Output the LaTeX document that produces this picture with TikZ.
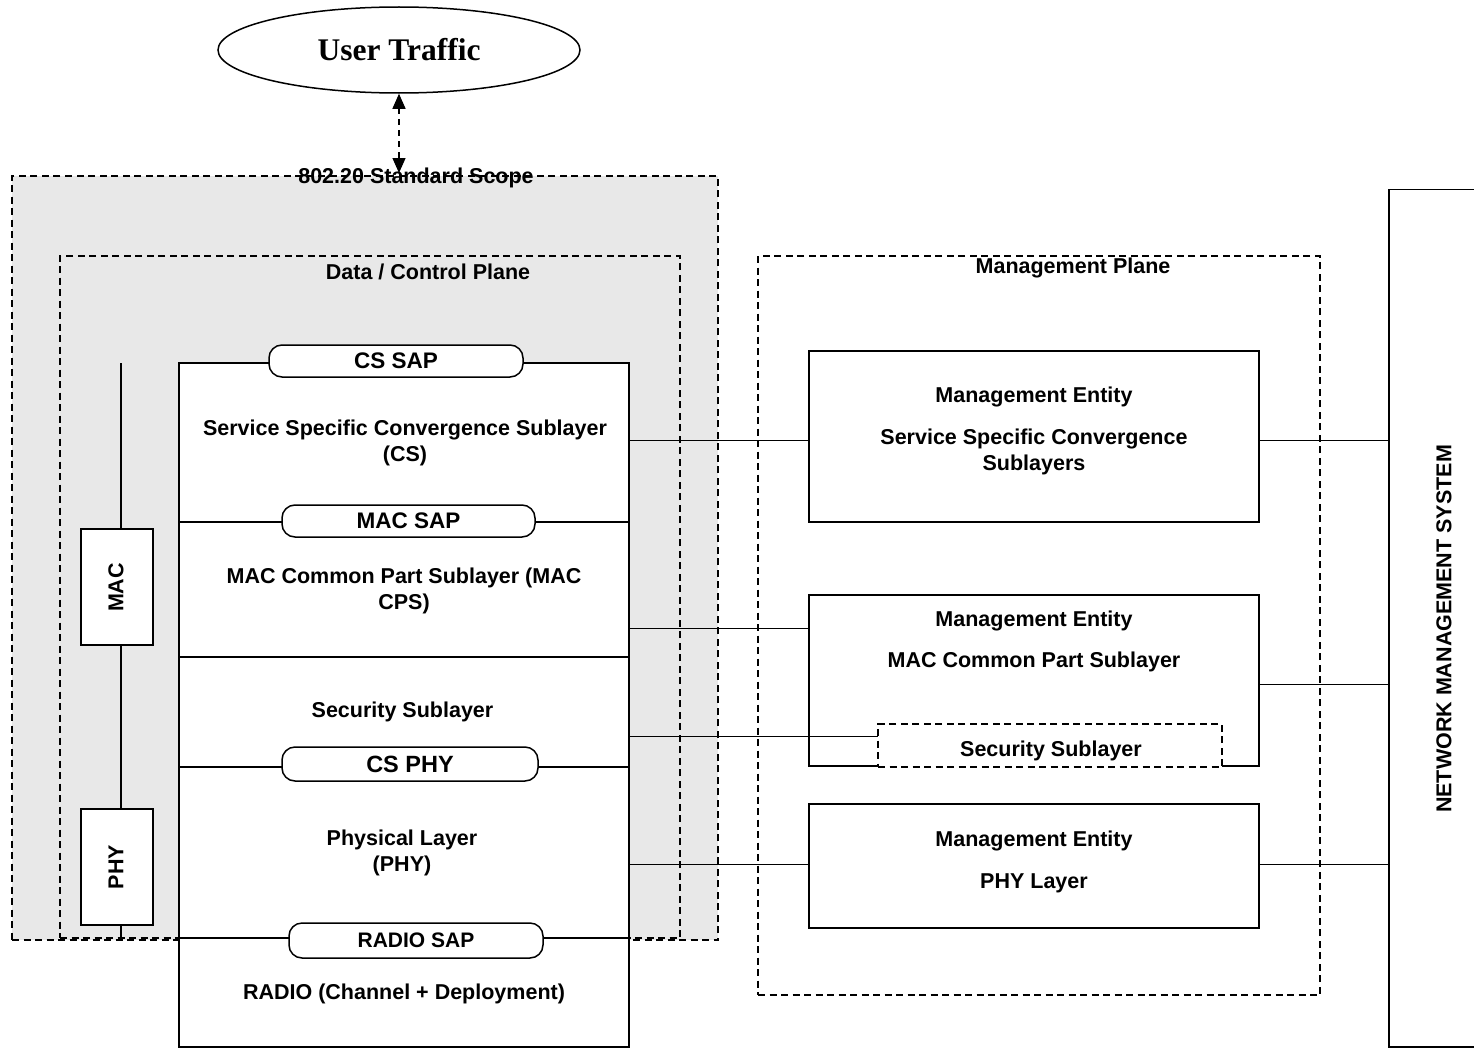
\documentclass[tikz,border=0pt]{standalone}
\usepackage{fontspec}
\setmainfont{Liberation Sans}
\newfontfamily\trafficfont{Liberation Serif}
\usetikzlibrary{shapes.geometric,arrows.meta,calc}
\definecolor{scopegray}{RGB}{232,232,232}
\tikzset{
  lbl/.style={inner sep=0pt, outer sep=0pt, align=center,
    font=\fontsize{21.5}{26}\selectfont\bfseries},
  solidbox/.style={draw, line width=1.5pt, fill=white, inner sep=0pt, outer sep=0pt},
  planebox/.style={draw, line width=1.5pt, dash pattern=on 7pt off 4.5pt, inner sep=0pt, outer sep=0pt},
  sapbox/.style={draw, line width=1.5pt, fill=white, rounded corners=13pt, inner sep=0pt, outer sep=0pt,
    font=\fontsize{#1}{28}\selectfont\bfseries},
  sapbox/.default=22.5,
  wire/.style={line width=1.5pt},
  trafficlink/.style={line width=1.3pt, dash pattern=on 6pt off 5pt,
    {Triangle[length=15pt,width=13pt]}-{Triangle[length=15pt,width=13pt]}},
}
\begin{document}
\begin{tikzpicture}[x=1pt,y=-1pt]
\useasboundingbox (0,0) rectangle (1474,1049);

% user traffic source
\node[ellipse, draw, line width=1.5pt, minimum width=362pt, minimum height=86pt, inner sep=0pt,
  font=\trafficfont\bfseries\fontsize{31.5}{36}\selectfont] (ut) at (399,50) {User Traffic};

% standard scope and planes
\node[planebox, fill=scopegray, minimum width=706pt, minimum height=764pt] (scope) at (365,558) {};
\node[lbl] (scopelbl) at (416,178) {802.20 Standard Scope};
\node[planebox, minimum width=620pt, minimum height=682pt] (dcp) at (370,597) {};
\node[lbl] (dcplbl) at (428,272) {Data / Control Plane};
\node[planebox, minimum width=562pt, minimum height=739pt] (mgp) at (1039,625.5) {};
\node[lbl] (mgplbl) at (1073,268) {Management Plane};

\draw[trafficlink, shorten >=3pt] (ut.south) -- (ut.south |- scope.north);

% protocol stack
\node[solidbox, minimum width=450pt, minimum height=684pt] (stack) at (404,705) {};
\coordinate (b1) at (0,522);
\coordinate (b2) at (0,657);
\coordinate (b3) at (0,767);
\coordinate (b4) at (0,938);
\foreach \b in {b1,b2,b3,b4}
  \draw[wire] (stack.west |- \b) -- (stack.east |- \b);

\node[sapbox, minimum width=254pt, minimum height=32pt] (cssap) at (396,361) {CS SAP};
\node[sapbox, minimum width=253pt, minimum height=32pt] (macsap) at (408.5,521) {MAC SAP};
\node[sapbox=23.5, minimum width=256pt, minimum height=34pt] (csphy) at (410,764) {CS PHY};
\node[sapbox=21, minimum width=254pt, minimum height=35pt] (radiosap) at (416,940.5) {RADIO SAP};

\node[lbl] (cstxt) at (405,443) {Service Specific Convergence Sublayer\\(CS)};
\node[lbl] (mactxt) at (404,591) {MAC Common Part Sublayer (MAC\\CPS)};
\node[lbl] (sectxt) at (402.5,712) {Security Sublayer};
\node[lbl] (phytxt) at (402,853) {Physical Layer\\(PHY)};
\node[lbl] (radiotxt) at (404,994) {RADIO (Channel + Deployment)};

% MAC / PHY side bar
\node[solidbox, minimum width=72pt, minimum height=116pt] (mac) at (117,587) {};
\node[solidbox, minimum width=72pt, minimum height=116pt] (phy) at (117,867) {};
\node[lbl, rotate=90] (maclbl) at (116,587.5) {MAC};
\node[lbl, rotate=90] (phylbl) at (116,867) {PHY};
\coordinate (spine) at (121,363);
\draw[wire] (spine) -- (spine |- mac.north);
\draw[wire] (spine |- mac.south) -- (spine |- phy.north);
\draw[wire] (spine |- phy.south) -- (spine |- b4);

% management entities
\node[solidbox, minimum width=450pt, minimum height=171pt] (me1) at (1034,436.5) {};
\node[lbl] (me1a) at (1034,397) {Management Entity};
\node[lbl] (me1b) at (1034,452) {Service Specific Convergence\\Sublayers};

\node[solidbox, minimum width=450pt, minimum height=171pt] (me2) at (1034,680.5) {};
\node[lbl] (me2a) at (1034,621) {Management Entity};
\node[lbl] (me2b) at (1034,661.5) {MAC Common Part Sublayer};
\node[planebox, fill=white, minimum width=344pt, minimum height=43pt] (sec) at (1050,745.5) {};
\node[lbl] (secl) at (1051,751) {Security Sublayer};

\node[solidbox, minimum width=450pt, minimum height=124pt] (me3) at (1034,866) {};
\node[lbl] (me3a) at (1034,840.5) {Management Entity};
\node[lbl] (me3b) at (1034,883) {PHY Layer};

% network management system (runs past the right margin)
\node[inner sep=0pt, outer sep=0pt, minimum width=85pt, minimum height=857.5pt] (nms) at (1431.5,618.25) {};
\draw[wire] (nms.north east) -- (nms.north west) -- (nms.south west) -- (nms.south east);
\node[lbl, rotate=90] (nmslbl) at (1444,629) {NETWORK MANAGEMENT SYSTEM};

% management links
\coordinate (lcs) at (0,440.5);
\coordinate (lmac) at (0,628.5);
\coordinate (lmacn) at (0,684.5);
\coordinate (lsec) at (0,736.5);
\coordinate (lphy) at (0,864.5);
\draw[wire] (stack.east |- lcs) -- (me1.west |- lcs);
\draw[wire] (me1.east |- lcs) -- (nms.west |- lcs);
\draw[wire] (stack.east |- lmac) -- (me2.west |- lmac);
\draw[wire] (me2.east |- lmacn) -- (nms.west |- lmacn);
\draw[wire] (stack.east |- lsec) -- (sec.west |- lsec);
\draw[wire] (stack.east |- lphy) -- (me3.west |- lphy);
\draw[wire] (me3.east |- lphy) -- (nms.west |- lphy);
\end{tikzpicture}
\end{document}
